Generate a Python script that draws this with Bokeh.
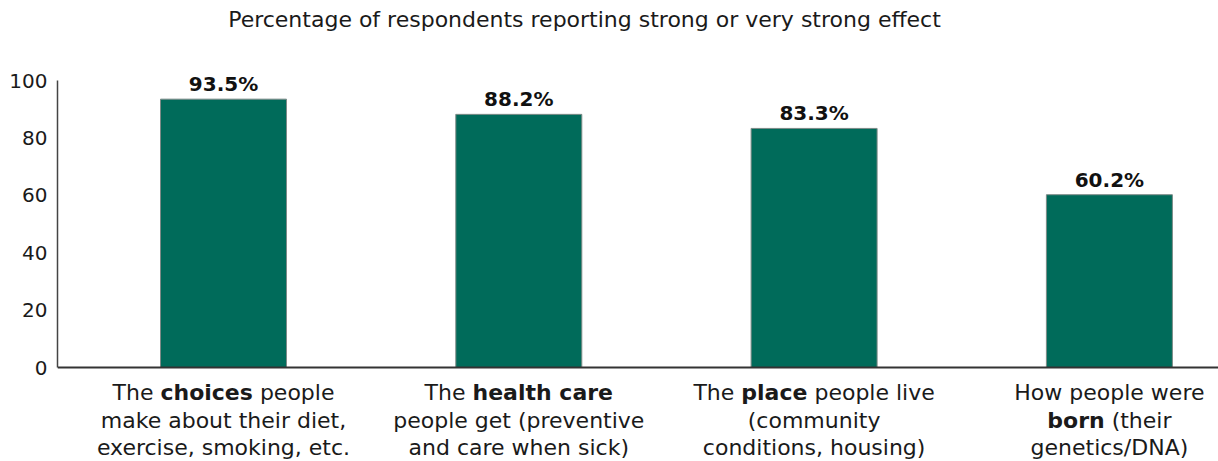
from bokeh.plotting import figure
from bokeh.models import Range1d, Label, LabelSet, ColumnDataSource, FixedTicker, Span
from bokeh.core.properties import value
from bokeh.embed import file_html
from bokeh.resources import INLINE

# ---------------- data ----------------
title_text = "Percentage of respondents reporting strong or very strong effect"
categories = ["choices", "health care", "place", "born"]
values = [93.5, 88.2, 83.3, 60.2]
value_labels = ["93.5%", "88.2%", "83.3%", "60.2%"]
y_ticks = [0, 20, 40, 60, 80, 100]
# category label lines: each line is a list of (text, is_bold) segments
category_lines = [
    [[("The", False), ("choices", True), ("people", False)],
     [("make about their diet,", False)],
     [("exercise, smoking, etc.", False)]],
    [[("The", False), ("health care", True)],
     [("people get (preventive", False)],
     [("and care when sick)", False)]],
    [[("The", False), ("place", True), ("people live", False)],
     [("(community", False)],
     [("conditions, housing)", False)]],
    [[("How people were", False)],
     [("born", True), ("(their", False)],
     [("genetics/DNA)", False)]],
]

# ---------------- style ----------------
FONT = "DejaVu Sans"
LABEL_SIZE = 22
BAR_COLOR = "#006b5a"
TEXT_COLOR = "#1a1a1a"

# text width measurement (PIL if available, else DejaVu Sans metric table)
_REG = {" ": 651, "T": 1251, "h": 1298, "e": 1260, "p": 1300, "o": 1253, "l": 569,
        "i": 569, "v": 1212, "H": 1540, "w": 1675, "r": 842, "(": 799, "t": 803}
_BOLD = {" ": 713, "c": 1214, "h": 1458, "o": 1407, "i": 702, "e": 1389, "s": 1219,
         "a": 1382, "l": 702, "t": 979, "r": 1010, "p": 1466, "b": 1466, "n": 1458}


def text_width(txt, bold, size):
    try:
        from PIL import ImageFont
        f = ImageFont.truetype("DejaVuSans-Bold.ttf" if bold else "DejaVuSans.ttf", size)
        return float(f.getlength(txt))
    except Exception:
        tbl = _BOLD if bold else _REG
        return sum(tbl.get(c, 1250) for c in txt) / 2048.0 * size


# ---------------- layout (pixel geometry of the reference) ----------------
W, H = 1218, 461
LEFT = 57                 # frame left edge (y axis)
Y0_PX, Y100_PX = 367, 80  # pixel rows of y=0 and y=100
unit_py = (Y0_PX - Y100_PX) / 100.0
y_start = -(H - Y0_PX) / unit_py
y_end = 100 + Y100_PX / unit_py
first_center_px = 223 - LEFT
unit_px = 295.3
x_start = -first_center_px / unit_px
x_end = x_start + (W - LEFT) / unit_px

p = figure(width=W, height=H, x_range=Range1d(x_start, x_end), y_range=Range1d(y_start, y_end),
           output_backend="svg", toolbar_location=None,
           min_border_left=LEFT, min_border_right=0, min_border_top=0, min_border_bottom=0)
p.outline_line_color = None
p.xgrid.visible = False
p.ygrid.visible = False
p.background_fill_color = "white"
p.border_fill_color = "white"

xs = list(range(len(categories)))
src = ColumnDataSource(dict(x=xs, top=values, label=value_labels))
p.vbar(x="x", top="top", width=126 / unit_px, bottom=0, source=src,
       fill_color=BAR_COLOR, line_color="#7d8a87", line_width=1)

# axes
p.xaxis.visible = False
p.yaxis.bounds = (0, 100)
p.yaxis.ticker = FixedTicker(ticks=y_ticks)
p.yaxis.major_tick_line_color = None
p.yaxis.minor_tick_line_color = None
p.yaxis.major_label_standoff = 4
p.yaxis.major_label_text_font = FONT
p.yaxis.major_label_text_font_size = "20px"
p.yaxis.major_label_text_color = TEXT_COLOR
p.yaxis.axis_line_color = "#444444"
p.yaxis.axis_line_width = 1.5

# baseline (x axis line)
p.add_layout(Span(location=0, dimension="width", line_color="#333333", line_width=2))

# value labels
p.add_layout(LabelSet(x="x", y="top", text="label", source=src, y_offset=8,
                      text_align="center", text_baseline="alphabetic",
                      text_font=value(FONT), text_font_style="bold", text_font_size="20px",
                      text_color="#111111"))

# category labels (mixed weight lines)
line_offsets = [-25, -53, -80]
space_w = text_width(" ", False, LABEL_SIZE)
for xi, lines in zip(xs, category_lines):
    for off, segs in zip(line_offsets, lines):
        widths = [text_width(t, b, LABEL_SIZE) for t, b in segs]
        total = sum(widths) + space_w * (len(segs) - 1)
        cur = -total / 2.0
        for (t, b), w in zip(segs, widths):
            p.add_layout(Label(x=xi, y=0, x_offset=cur, y_offset=off, text=t,
                               text_align="left", text_baseline="alphabetic",
                               text_font=FONT, text_font_size=f"{LABEL_SIZE}px",
                               text_font_style="bold" if b else "normal",
                               text_color=TEXT_COLOR))
            cur += w + space_w

# title
title_center_px = 584
p.add_layout(Label(x=x_start + (title_center_px - LEFT) / unit_px, y=100, y_offset=61,
                   text=title_text, text_align="center", text_baseline="alphabetic",
                   text_font=FONT, text_font_size="22px", text_color=TEXT_COLOR))

open("out.html", "w").write(file_html(p, INLINE))
